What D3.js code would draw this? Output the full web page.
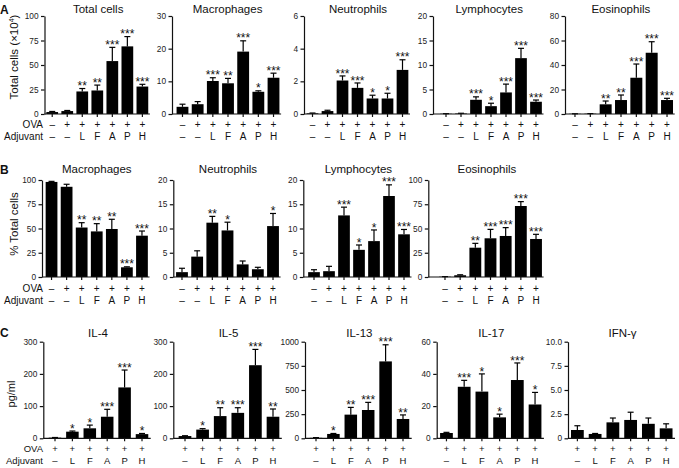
<!DOCTYPE html>
<html>
<head>
<meta charset="utf-8">
<script src="https://cdn.jsdelivr.net/npm/d3@7"></script>
<style>
body { margin: 0; background: #fff; }
svg text { font-family: "Liberation Sans", Arial, Helvetica, sans-serif; fill: #111; }
.axis path, .axis line { stroke: #111; stroke-width: 1.2; }
.axis text { font-size: 8.3px; fill: #222; }
</style>
</head>
<body>
<svg id="chart" width="679" height="468"></svg>
<script>
// group labels under the bars
var ovaAB = ["–", "+", "+", "+", "+", "+", "+"];
var adjAB = ["–", "–", "L", "F", "A", "P", "H"];
var ovaC = ["+", "+", "+", "+", "+", "+"];
var adjC = ["–", "L", "F", "A", "P", "H"];

// A: total cells (x10^4)
var totalCells = [2, 3, 23, 24, 54, 69, 28];
var totalCellsErr = [0.6, 0.6, 3, 5.5, 14, 10, 2.3];
var totalCellsSig = ["", "", "**", "**", "***", "***", "***"];
var totalTicks = [0, 25, 50, 75, 100];

var macroA = [2.2, 3.0, 10.1, 9.4, 19.1, 6.8, 11.1];
var macroAErr = [0.8, 0.8, 1.0, 1.5, 3.3, 0.3, 1.4];
var macroASig = ["", "", "***", "**", "***", "*", "***"];
var macroATicks = [0, 10, 20, 30];

var neutroA = [0.04, 0.18, 2.05, 1.6, 0.95, 0.95, 2.7];
var neutroAErr = [0.02, 0.05, 0.28, 0.3, 0.2, 0.32, 0.62];
var neutroASig = ["", "", "***", "***", "*", "*", "***"];
var neutroATicks = [0, 2, 4, 6];

var lymphoA = [0.05, 0.1, 2.9, 1.6, 4.4, 11.4, 2.5];
var lymphoAErr = [0.02, 0.05, 0.6, 0.6, 1.7, 2.0, 0.35];
var lymphoASig = ["", "", "***", "*", "***", "***", "***"];
var lymphoATicks = [0, 5, 10, 15, 20];

var eosA = [0.15, 0.25, 7.9, 11.4, 29.6, 50, 11.4];
var eosAErr = [0.05, 0.1, 2.7, 4.1, 11.2, 9, 1.4];
var eosASig = ["", "", "**", "**", "***", "***", "***"];
var eosATicks = [0, 20, 40, 60, 80];

// B: % total cells
var macroB = [98, 93, 51, 47, 49.5, 10, 42.6];
var macroBErr = [0.6, 2.6, 5, 8, 10, 0.5, 4.8];
var macroBSig = ["", "", "**", "**", "**", "***", "***"];
var macroBTicks = [0, 25, 50, 75, 100];

var neutroB = [1.0, 4.2, 11.2, 9.6, 2.6, 1.6, 10.5];
var neutroBErr = [0.8, 1.2, 1.3, 1.7, 0.7, 0.4, 2.6];
var neutroBSig = ["", "", "**", "*", "", "", "*"];
var neutroBTicks = [0, 5, 10, 15, 20];

var lymphoB = [1.0, 1.2, 12.7, 5.6, 7.4, 16.7, 8.8];
var lymphoBErr = [0.5, 1.0, 1.7, 1.0, 2.3, 2.3, 1.0];
var lymphoBSig = ["", "", "***", "*", "*", "***", "***"];
var lymphoBTicks = [0, 5, 10, 15, 20];

var eosB = [0.3, 1.8, 30.2, 39.9, 42.3, 73.2, 39.2];
var eosBErr = [0.1, 0.5, 4.5, 9.2, 8.6, 4.5, 4.8];
var eosBSig = ["", "", "**", "***", "***", "***", "***"];
var eosBTicks = [0, 25, 50, 75, 100];

// C: cytokines (pg/ml)
var il4 = [2, 20.6, 31, 67, 158, 13];
var il4Err = [0.5, 2, 10, 23, 54, 2];
var il4Sig = ["", "*", "*", "***", "***", "*"];
var il4Ticks = [0, 100, 200, 300];

var il5 = [7, 27, 69, 79, 227, 67];
var il5Err = [1, 3, 26, 16, 49, 24];
var il5Sig = ["", "*", "**", "***", "***", "**"];
var il5Ticks = [0, 100, 200, 300];

var il13 = [5, 45, 245, 293, 796, 200];
var il13Err = [2, 5, 75, 79, 172, 42];
var il13Sig = ["", "*", "**", "***", "***", "**"];
var il13Ticks = [0, 250, 500, 750, 1000];

var il17 = [3.3, 32, 29, 13, 36.2, 21];
var il17Err = [0.4, 4, 11, 2, 10.6, 7.5];
var il17Sig = ["", "***", "*", "*", "***", "*"];
var il17Ticks = [0, 20, 40, 60];

var ifng = [0.86, 0.45, 1.65, 1.9, 1.5, 1.03];
var ifngErr = [0.44, 0.05, 0.45, 0.8, 0.6, 0.47];
var ifngSig = ["", "", "", "", "", ""];
var ifngTicks = [0, 2.5, 5, 7.5, 10];

var svg = d3.select("#chart");

// row layouts
var rowA = {y0: 114, y1: 16, titleY: 13, ovaY: 128, adjY: 140, pad: 0.22, ova: ovaAB, adj: adjAB, fs: 10};
var rowB = {y0: 277, y1: 180, titleY: 173, ovaY: 291.5, adjY: 304, pad: 0.22, ova: ovaAB, adj: adjAB, fs: 10};
var rowC = {y0: 438.3, y1: 341.7, titleY: 337, ovaY: 451.5, adjY: 463.5, pad: 0.28, ova: ovaC, adj: adjC, fs: 9.5};

var fmtDec = function(d) { return d === 0 ? "0" : d3.format(".1f")(d); };

var panels = [
  {row: rowA, title: "Total cells", v: totalCells, e: totalCellsErr, s: totalCellsSig, ticks: totalTicks, ax: 44.5, b0: 44.7, b1: 149.9, first: true},
  {row: rowA, title: "Macrophages", v: macroA, e: macroAErr, s: macroASig, ticks: macroATicks, ax: 172, b0: 174.9, b1: 281.1},
  {row: rowA, title: "Neutrophils", v: neutroA, e: neutroAErr, s: neutroASig, ticks: neutroATicks, ax: 304, b0: 305, b1: 410},
  {row: rowA, title: "Lymphocytes", v: lymphoA, e: lymphoAErr, s: lymphoASig, ticks: lymphoATicks, ax: 433, b0: 438.5, b1: 543.5},
  {row: rowA, title: "Eosinophils", v: eosA, e: eosAErr, s: eosASig, ticks: eosATicks, ax: 565, b0: 567.3, b1: 674.7},

  {row: rowB, title: "Macrophages", v: macroB, e: macroBErr, s: macroBSig, ticks: macroBTicks, ax: 42, b0: 44, b1: 149.5, first: true},
  {row: rowB, title: "Neutrophils", v: neutroB, e: neutroBErr, s: neutroBSig, ticks: neutroBTicks, ax: 173.3, b0: 174.4, b1: 280.6},
  {row: rowB, title: "Lymphocytes", v: lymphoB, e: lymphoBErr, s: lymphoBSig, ticks: lymphoBTicks, ax: 303.3, b0: 306.5, b1: 411.5},
  {row: rowB, title: "Eosinophils", v: eosB, e: eosBErr, s: eosBSig, ticks: eosBTicks, ax: 428.3, b0: 437.4, b1: 543.6},

  {row: rowC, title: "IL-4", v: il4, e: il4Err, s: il4Sig, ticks: il4Ticks, ax: 43.3, b0: 46.3, b1: 150.7, first: true},
  {row: rowC, title: "IL-5", v: il5, e: il5Err, s: il5Sig, ticks: il5Ticks, ax: 173.3, b0: 176.2, b1: 281.8},
  {row: rowC, title: "IL-13", v: il13, e: il13Err, s: il13Sig, ticks: il13Ticks, ax: 305, b0: 307.3, b1: 411.7},
  {row: rowC, title: "IL-17", v: il17, e: il17Err, s: il17Sig, ticks: il17Ticks, ax: 436.7, b0: 437.6, b1: 543.9},
  {row: rowC, title: "IFN-γ", v: ifng, e: ifngErr, s: ifngSig, ticks: ifngTicks, ax: 568, b0: 568.5, b1: 675, fmt: fmtDec}
];

function drawPanel(p) {
  var r = p.row;
  var n = p.v.length;
  var x = d3.scaleBand()
    .domain(d3.range(n))
    .range([p.b0, p.b1])
    .paddingInner(r.pad)
    .paddingOuter(r.pad / 2);
  var y = d3.scaleLinear()
    .domain([0, d3.max(p.ticks)])
    .range([r.y0, r.y1]);

  var g = svg.append("g");
  var idx = d3.range(n);

  // bars
  g.selectAll(".bar")
    .data(idx)
    .enter()
    .append("rect")
    .attr("x", function(i) { return x(i); })
    .attr("width", x.bandwidth())
    .attr("y", function(i) { return y(p.v[i]); })
    .attr("height", function(i) { return y(0) - y(p.v[i]); })
    .attr("fill", "#000");

  // error bars (upper only)
  var cap = 3;
  idx.forEach(function(i) {
    var cx = x(i) + x.bandwidth() / 2;
    var top = y(p.v[i] + p.e[i]);
    g.append("line")
      .attr("x1", cx).attr("x2", cx)
      .attr("y1", y(p.v[i])).attr("y2", top)
      .attr("stroke", "#000").attr("stroke-width", 1.2);
    g.append("line")
      .attr("x1", cx - cap).attr("x2", cx + cap)
      .attr("y1", top).attr("y2", top)
      .attr("stroke", "#000").attr("stroke-width", 1.2);
    if (p.s[i]) {
      g.append("text")
        .attr("x", cx)
        .attr("y", top + 1.6)
        .attr("text-anchor", "middle")
        .style("font-size", "12px")
        .text(p.s[i]);
    }
  });

  // y axis
  g.append("g")
    .attr("class", "axis")
    .attr("transform", "translate(" + p.ax + ",0)")
    .call(d3.axisLeft(y)
      .tickValues(p.ticks)
      .tickSize(3.5)
      .tickSizeOuter(0)
      .tickPadding(2.5)
      .tickFormat(p.fmt || d3.format("d")));

  // x axis: baseline from y axis to end, ticks at bar centres
  var xa = g.append("g")
    .attr("class", "axis")
    .attr("transform", "translate(0," + r.y0 + ")")
    .call(d3.axisBottom(x).tickSize(3).tickSizeOuter(0).tickFormat(""));
  xa.select(".domain").remove();
  g.append("line")
    .attr("x1", p.ax).attr("x2", p.b1)
    .attr("y1", r.y0).attr("y2", r.y0)
    .attr("stroke", "#111").attr("stroke-width", 1.2);

  // sign rows
  g.selectAll(".ova")
    .data(r.ova)
    .enter()
    .append("text")
    .attr("x", function(d, i) { return x(i) + x.bandwidth() / 2; })
    .attr("y", r.ovaY)
    .attr("text-anchor", "middle")
    .style("font-size", r.fs + "px")
    .text(function(d) { return d; });
  g.selectAll(".adj")
    .data(r.adj)
    .enter()
    .append("text")
    .attr("x", function(d, i) { return x(i) + x.bandwidth() / 2; })
    .attr("y", r.adjY)
    .attr("text-anchor", "middle")
    .style("font-size", r.fs + "px")
    .text(function(d) { return d; });

  if (p.first) {
    g.append("text")
      .attr("x", 43).attr("y", r.ovaY)
      .attr("text-anchor", "end")
      .style("font-size", r.fs + "px")
      .text("OVA");
    g.append("text")
      .attr("x", 43).attr("y", r.adjY)
      .attr("text-anchor", "end")
      .style("font-size", r.fs + "px")
      .text("Adjuvant");
  }

  // title
  g.append("text")
    .attr("x", (p.ax + p.b1) / 2 + 1)
    .attr("y", r.titleY)
    .attr("text-anchor", "middle")
    .style("font-size", "11.5px")
    .text(p.title);
}

panels.forEach(drawPanel);

// panel letters
[["A", 13.5], ["B", 173.5], ["C", 337]].forEach(function(l) {
  svg.append("text")
    .attr("x", 0).attr("y", l[1])
    .style("font-size", "12px")
    .style("font-weight", "bold")
    .text(l[0]);
});

// y axis titles
var yt = svg.append("text")
  .attr("transform", "translate(18,57)rotate(-90)")
  .attr("text-anchor", "middle")
  .style("font-size", "11.5px");
yt.append("tspan").text("Total cells (×10");
yt.append("tspan").attr("dy", -4).style("font-size", "7px").text("4");
yt.append("tspan").attr("dy", 4).text(")");

svg.append("text")
  .attr("transform", "translate(18,224)rotate(-90)")
  .attr("text-anchor", "middle")
  .style("font-size", "11.5px")
  .text("% Total cells");

svg.append("text")
  .attr("transform", "translate(15,394)rotate(-90)")
  .attr("text-anchor", "middle")
  .style("font-size", "11px")
  .text("pg/ml");
</script>
</body>
</html>
